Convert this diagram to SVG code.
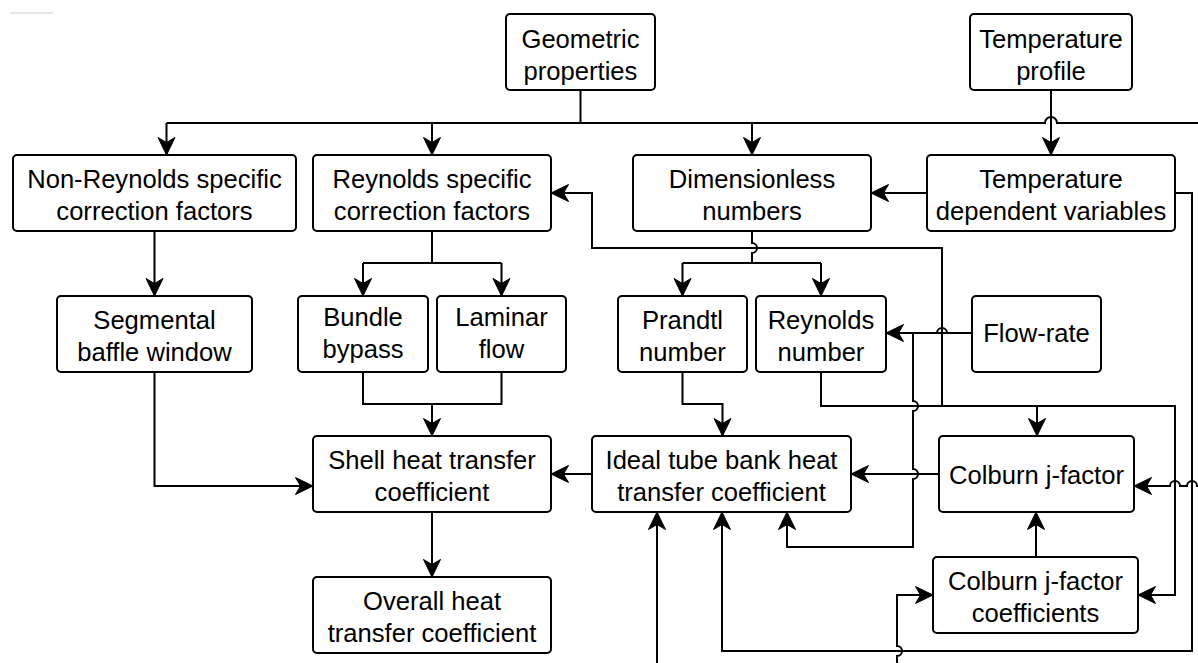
<svg xmlns="http://www.w3.org/2000/svg" width="1198" height="663" viewBox="0 0 1198 663">
<defs>
<style>
.n rect{fill:#fff;stroke:#000;stroke-width:2}
.n text{font-family:"Liberation Sans",Arial,sans-serif;font-size:25.6px;fill:#000;text-anchor:middle}
.e path{fill:none;stroke:#000;stroke-width:2}
.e path.a{marker-end:url(#arr)}
</style>
<marker id="arr" markerUnits="userSpaceOnUse" markerWidth="19" markerHeight="19" viewBox="0 0 19 19" refX="18" refY="9.5" orient="auto">
<path d="M0.5,1 L18,9.5 L0.5,18 L5.5,9.5 Z" fill="#000" stroke="#000" stroke-width="1"/>
</marker>
</defs>
<rect width="1198" height="663" fill="#fff"/>
<rect x="10" y="12" width="43" height="2" fill="#e6e6e6"/>
<g class="e" id="connectors">
<path d="M580.5,90 V123"/>
<path d="M166.5,123 H1045 A6,6 0 0 1 1057,123 H1198"/>
<path class="a" d="M166.5,123 V155"/>
<path class="a" d="M432,123 V155"/>
<path class="a" d="M752,123 V155"/>
<path class="a" d="M1051,90 V155"/>
<path class="a" d="M927,193 H871"/>
<path class="a" d="M1175,193 H1192 V651 H722 V512"/>
<path class="a" d="M1198,486 H1197 A5,5 0 0 0 1187,486 H1180 A5,5 0 0 0 1170,486 H1134"/>
<path class="a" d="M821,372 V406 H1175 V595 H1138"/>
<path class="a" d="M1037,406 V436"/>
<path class="a" d="M942,406 V248 H592 V193 H551"/>
<path d="M752,231 V243 A5,5 0 0 1 752,253 V263"/>
<path d="M682.5,263 H821"/>
<path class="a" d="M682.5,263 V296"/>
<path class="a" d="M821,263 V296"/>
<path class="a" d="M682.5,372 V404 H722.5 V436"/>
<path class="a" d="M972,333 H947 A5,5 0 0 0 937,333 H886"/>
<path class="a" d="M972,333 H913 V401 A5,5 0 0 1 913,411 V469 A5,5 0 0 1 913,479 V547 H787 V512"/>
<path class="a" d="M939,474 H851"/>
<path class="a" d="M592,474 H551"/>
<path class="a" d="M154.5,372 V486 H313"/>
<path d="M363,372 V404 H501.5 V372"/>
<path class="a" d="M432,404 V436"/>
<path d="M432,231 V263"/>
<path d="M363,263 H501.5"/>
<path class="a" d="M363,263 V296"/>
<path class="a" d="M501.5,263 V296"/>
<path class="a" d="M154.5,231 V296"/>
<path class="a" d="M432,512 V577"/>
<path class="a" d="M1036,557 V512"/>
<path class="a" d="M897,663 V656 A5,5 0 0 0 897,646 V595 H933"/>
<path class="a" d="M657,663 V512"/>
</g>
<g class="n" id="geometric"><rect x="506" y="14" width="149" height="76" rx="4"/><text x="580.5" y="48">Geometric</text><text x="580.5" y="80">properties</text></g>
<g class="n" id="tprofile"><rect x="970" y="14" width="162" height="76" rx="4"/><text x="1051" y="48">Temperature</text><text x="1051" y="80">profile</text></g>
<g class="n" id="nonre"><rect x="13" y="155" width="283" height="76" rx="4"/><text x="154.5" y="188">Non-Reynolds specific</text><text x="154.5" y="220">correction factors</text></g>
<g class="n" id="respec"><rect x="313" y="155" width="238" height="76" rx="4"/><text x="432" y="188">Reynolds specific</text><text x="432" y="220">correction factors</text></g>
<g class="n" id="dimless"><rect x="633" y="155" width="238" height="76" rx="4"/><text x="752" y="188">Dimensionless</text><text x="752" y="220">numbers</text></g>
<g class="n" id="tdep"><rect x="927" y="155" width="248" height="76" rx="4"/><text x="1051" y="188">Temperature</text><text x="1051" y="220">dependent variables</text></g>
<g class="n" id="segmental"><rect x="57" y="296" width="195" height="76" rx="4"/><text x="154.5" y="329">Segmental</text><text x="154.5" y="361">baffle window</text></g>
<g class="n" id="bundle"><rect x="298" y="296" width="130" height="76" rx="4"/><text x="363" y="326">Bundle</text><text x="363" y="358">bypass</text></g>
<g class="n" id="laminar"><rect x="437" y="296" width="129" height="76" rx="4"/><text x="501.5" y="326">Laminar</text><text x="501.5" y="358">flow</text></g>
<g class="n" id="prandtl"><rect x="618" y="296" width="129" height="76" rx="4"/><text x="682.5" y="329">Prandtl</text><text x="682.5" y="361">number</text></g>
<g class="n" id="reynolds"><rect x="756" y="296" width="130" height="76" rx="4"/><text x="821" y="329">Reynolds</text><text x="821" y="361">number</text></g>
<g class="n" id="flowrate"><rect x="972" y="296" width="129" height="76" rx="4"/><text x="1036.5" y="342">Flow-rate</text></g>
<g class="n" id="shell"><rect x="313" y="436" width="238" height="76" rx="4"/><text x="432" y="469">Shell heat transfer</text><text x="432" y="501">coefficient</text></g>
<g class="n" id="ideal"><rect x="592" y="436" width="259" height="76" rx="4"/><text x="721.5" y="469">Ideal tube bank heat</text><text x="721.5" y="501">transfer coefficient</text></g>
<g class="n" id="colburn"><rect x="939" y="436" width="195" height="76" rx="4"/><text x="1036.5" y="484">Colburn j-factor</text></g>
<g class="n" id="colcoef"><rect x="933" y="557" width="205" height="76" rx="4"/><text x="1035.5" y="590">Colburn j-factor</text><text x="1035.5" y="622">coefficients</text></g>
<g class="n" id="overall"><rect x="313" y="577" width="238" height="76" rx="4"/><text x="432" y="610">Overall heat</text><text x="432" y="642">transfer coefficient</text></g>
</svg>
